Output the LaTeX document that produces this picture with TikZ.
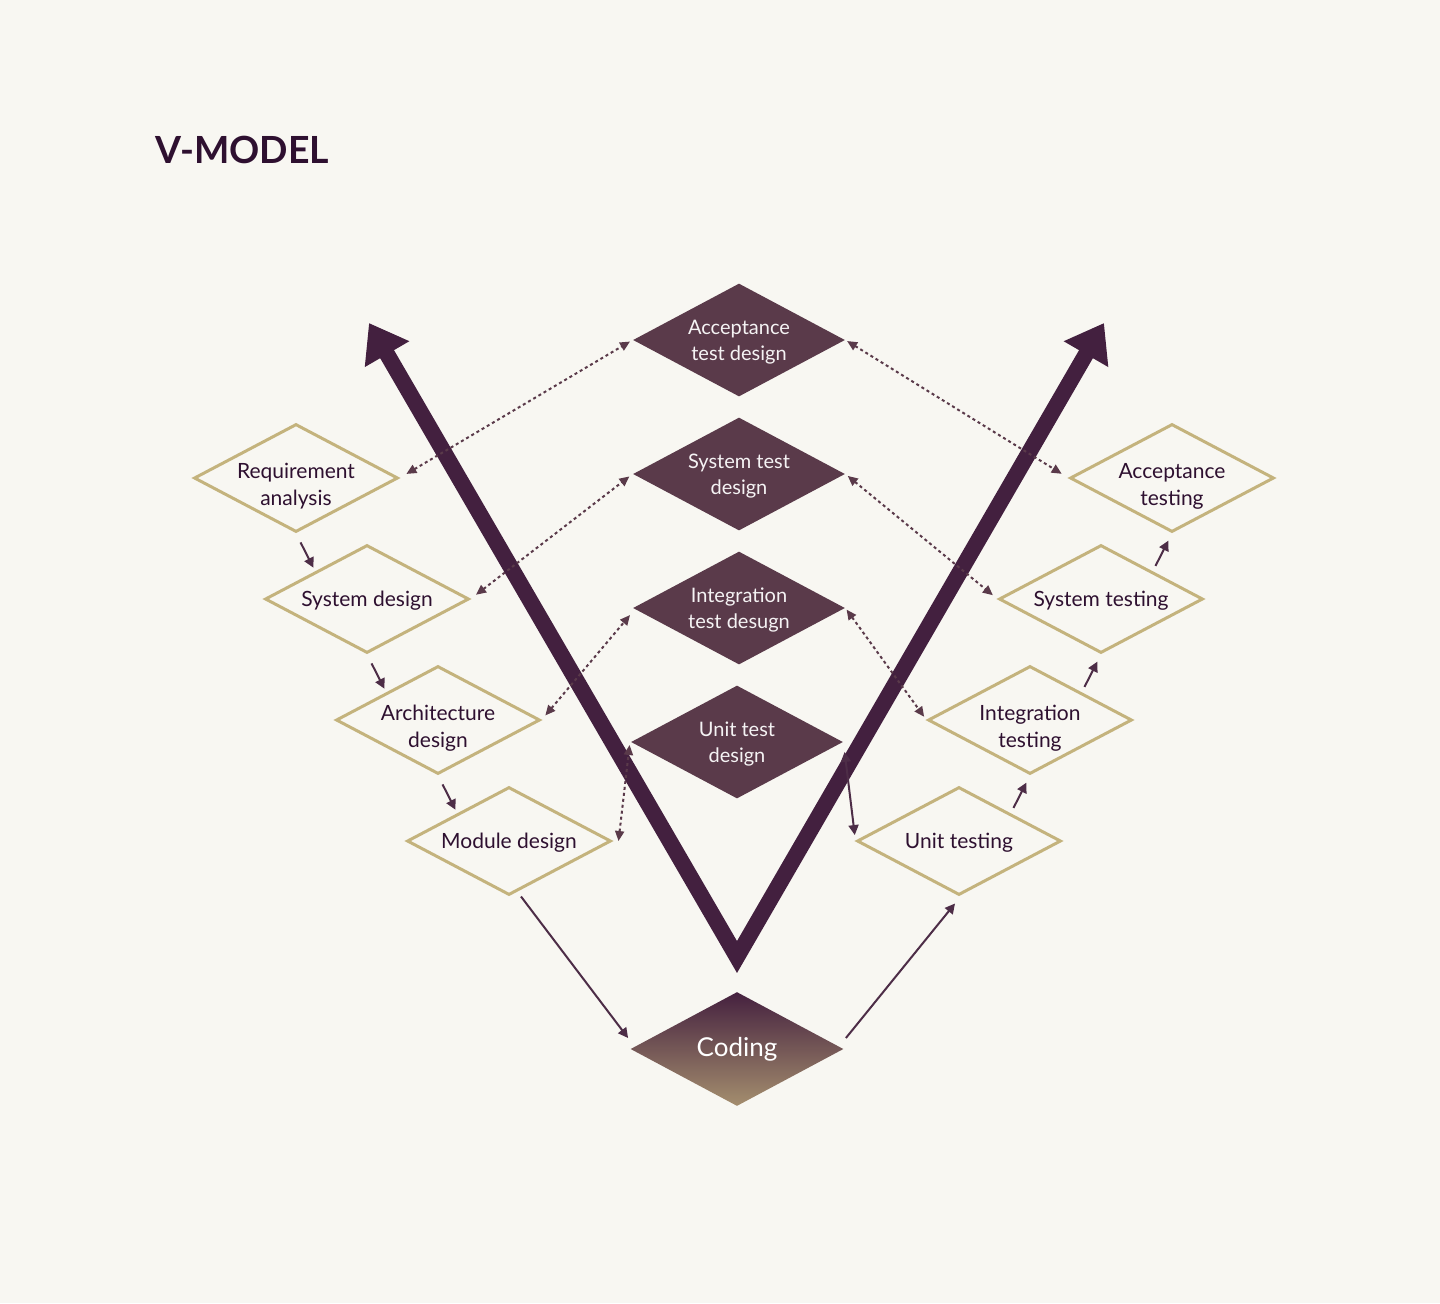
\documentclass[tikz,border=0pt]{standalone}
\usepackage{fontspec}
\setmainfont{Lato}
\usetikzlibrary{shapes.geometric,arrows.meta,calc}

\definecolor{bgcol}{HTML}{F8F7F2}
\definecolor{vcol}{HTML}{43203F}
\definecolor{testcol}{HTML}{5A3A4A}
\definecolor{goldcol}{HTML}{C4B37D}
\definecolor{txtcol}{HTML}{2E1030}
\definecolor{arrcol}{HTML}{4D2D47}
\definecolor{codetop}{HTML}{45213F}
\definecolor{codebot}{HTML}{A48E6E}

\tikzset{
	phase/.style={diamond, draw=goldcol, line width=1.5pt, fill=bgcol, aspect=1.88, inner sep=0pt,
		minimum width=102pt, minimum height=54pt},
	phtxt/.style={text=txtcol, align=center, inner sep=0pt, yshift=-1pt,
		font=\fontsize{10.5}{13.5}\selectfont},
	testdes/.style={diamond, fill=testcol, aspect=1.88, inner sep=0pt, yshift=0pt,
		minimum width=106pt, minimum height=56.5pt},
	tdtxt/.style={text=white!94!testcol, align=center, inner sep=0pt, yshift=-1pt,
		font=\fontsize{10}{13}\selectfont},
	link/.style={testcol, line width=1pt, dash pattern=on 1.5pt off 1.5pt,
		{Triangle[length=5pt,width=4.5pt]}-{Triangle[length=5pt,width=4.5pt]}},
	flow/.style={arrcol, line width=1pt, -{Triangle[length=5pt,width=5pt]}},
}

\begin{document}
\begin{tikzpicture}[x=0.5pt,y=-0.5pt]
	\fill[bgcol] (0,0) rectangle (1440,1303);
	\useasboundingbox (0,0) rectangle (1440,1303);

	\node[anchor=base west, inner sep=0pt, text=txtcol, font=\fontsize{18.7}{20}\selectfont\bfseries] (title) at (155,163) {V-MODEL};

	% verification side
	\node[phase, label={[phtxt, yshift=-3pt]center:Requirement\\analysis}] (req) at (296,478) {};
	\node[phase, label={[phtxt]center:System design}] (sysd) at (367,599) {};
	\node[phase, label={[phtxt, yshift=-3pt]center:Architecture\\design}] (arch) at (438,720) {};
	\node[phase, label={[phtxt]center:Module design}] (mod) at (509,841) {};

	% validation side
	\node[phase, label={[phtxt, yshift=-3pt]center:Acceptance\\testing}] (acct) at (1172,478) {};
	\node[phase, label={[phtxt]center:System testing}] (syst) at (1101,599) {};
	\node[phase, label={[phtxt, yshift=-3pt]center:Integration\\testing}] (intt) at (1030,720) {};
	\node[phase, label={[phtxt]center:Unit testing}] (unitt) at (959,841) {};

	% test design
	\node[testdes, label={[tdtxt]center:Acceptance\\test design}] (atd) at (739,340) {};
	\node[testdes, label={[tdtxt]center:System test\\design}] (std) at (739,474) {};
	\node[testdes, label={[tdtxt]center:Integration\\test desugn}] (itd) at (739,608) {};
	\node[testdes, label={[tdtxt]center:Unit test\\design}] (utd) at (737,742) {};

	\node[diamond, aspect=1.88, inner sep=0pt, minimum width=106.5pt, minimum height=57pt,
		top color=codetop, bottom color=codebot, text=white,
		font=\fontsize{13}{14}\selectfont] (cod) at (737,1049) {Coding};

	% the V
	\coordinate (vl) at (369,323);
	\coordinate (vb) at (737,957);
	\coordinate (vr) at (1104,323);
	\draw[vcol, line width=8pt, miter limit=10,
		{Triangle[length=18pt,width=24.5pt]}-{Triangle[length=18pt,width=24.5pt]}]
		(vl) -- (vb) -- (vr);

	% links between design and test
	\draw[link, shorten <=4pt, shorten >=1.5pt] (req.east) -- (atd.west);
	\draw[link, shorten <=3.5pt, shorten >=2pt] (sysd.east) -- (std.west);
	\draw[link, shorten <=3pt, shorten >=2pt] (arch.east) -- ($(itd.west)+(0,4)$);
	\draw[link] ($(mod.east)+(6,0)$) -- ($(utd.west)+(-1,3)$);
	\draw[link, shorten <=1pt, shorten >=4pt] (atd.east) -- (acct.west);
	\draw[link, shorten <=1.5pt, shorten >=3pt] (std.east) -- (syst.west);
	\draw[link, shorten <=1pt, shorten >=2pt] (itd.east) -- (intt.west);

	% flow
	\draw[flow, shorten <=5pt, shorten >=2pt] (req.south) -- (sysd.north west);
	\draw[flow, shorten <=5pt, shorten >=2pt] (sysd.south) -- (arch.north west);
	\draw[flow, shorten <=5pt, shorten >=2pt] (arch.south) -- (mod.north west);
	\draw[flow] ($(mod.south)+(12,0)$) -- ($(cod.west)+(-2,-11)$);
	\draw[flow] ($(cod.east)+(2,-11)$) -- ($(unitt.south)+(-4,7)$);
	\draw[flow, shorten <=3pt, shorten >=4pt] (unitt.north east) -- (intt.south);
	\draw[flow, shorten <=3pt, shorten >=4pt] (intt.north east) -- (syst.south);
	\draw[flow, shorten <=3pt, shorten >=4pt] (syst.north east) -- (acct.south);
	\draw[flow, {Triangle[length=5pt,width=5pt]}-{Triangle[length=5pt,width=5pt]}, shorten <=5pt, shorten >=3pt] (utd.east) -- (unitt.west);
\end{tikzpicture}
\end{document}
